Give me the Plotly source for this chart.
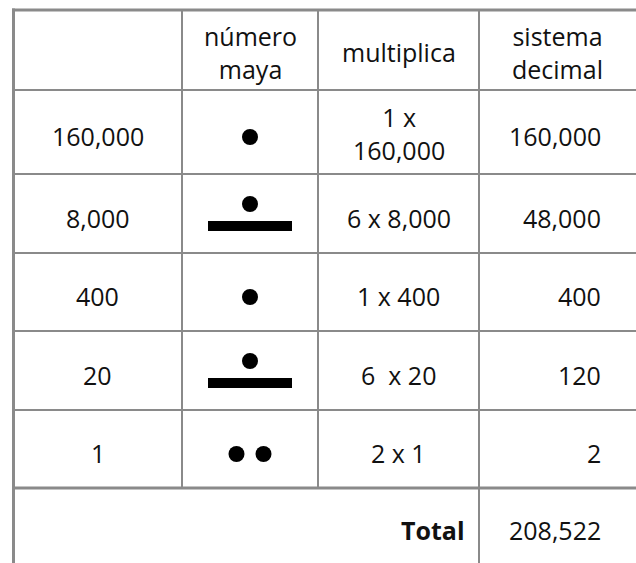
import plotly.graph_objects as go

# ---- data ----
headers = ["", "número<br>maya", "multiplica", "sistema<br>decimal"]
place_values = ["160,000", "8,000", "400", "20", "1"]
maya_digits = [1, 6, 1, 6, 2]
multiplica = ["1 x<br>160,000", "6 x 8,000", "1 x 400", "6  x 20", "2 x 1"]
decimal_values = ["160,000", "48,000", "400", "120", "2"]
total_label = "Total"
total_value = "208,522"

# ---- layout geometry (pixel-like axis units) ----
W, H = 636, 563
col_edges = [13.5, 182, 318, 479, 640]
row_edges = [10, 90, 174, 253, 331, 410, 488]
line_color = "#8a8a8a"
font = dict(family="Open Sans, Noto Sans, sans-serif", size=25, color="#111111")
text_dy = 4
right_x = 603

fig = go.Figure()
shapes = []

def line(x0, y0, x1, y1, w):
    shapes.append(dict(type="line", xref="x", yref="y", x0=x0, y0=y0, x1=x1, y1=y1,
                       line=dict(color=line_color, width=w)))

# borders
line(12, row_edges[0], W, row_edges[0], 3)
line(col_edges[0], row_edges[0] - 1.5, col_edges[0], H, 3)
for i, y in enumerate(row_edges[1:]):
    line(col_edges[0], y, W, y, 3 if i == len(row_edges) - 2 else 2)
for x in col_edges[1:3]:
    line(x, row_edges[0], x, row_edges[-1], 2)
line(col_edges[3], row_edges[0], col_edges[3], H, 2)

annotations = []
def text(x, y, s, anchor="center", bold=False):
    f = dict(font)
    annotations.append(dict(x=x, y=y, xref="x", yref="y", text=(f"<b>{s}</b>" if bold else s),
                            showarrow=False, xanchor=anchor, yanchor="middle", font=f,
                            align="center"))

cx = [(col_edges[i] + col_edges[i + 1]) / 2 for i in range(3)]
# headers
hy = (row_edges[0] + row_edges[1]) / 2 + 2
for i, h in enumerate(headers):
    if not h:
        continue
    if i < 3:
        text(cx[i], hy, h)
    else:
        text(557, hy, h)

dot_x, dot_y = [], []
for r in range(len(place_values)):
    yc = (row_edges[r + 1] + row_edges[r + 2]) / 2
    text(cx[0], yc + text_dy, place_values[r])
    text(cx[2], yc + (text_dy if "<br>" not in multiplica[r] else 1), multiplica[r])
    text(right_x, yc + text_dy, decimal_values[r], anchor="right")
    n = maya_digits[r]
    bars, dots = n // 5, n % 5
    if bars == 0:
        dyy = yc + 5
    else:
        dyy = yc - 9.5
    for k in range(dots):
        dot_x.append(cx[1] + (k - (dots - 1) / 2) * 27)
        dot_y.append(dyy)
    for b in range(bars):
        by = yc + 12.5 + b * 17
        shapes.append(dict(type="rect", xref="x", yref="y", x0=cx[1] - 42, x1=cx[1] + 42,
                           y0=by - 5, y1=by + 5, fillcolor="#000000", line=dict(width=0)))

ty = 530
text(467, ty, total_label, anchor="right", bold=True)
text(right_x, ty, total_value, anchor="right")

fig.add_trace(go.Scatter(x=dot_x, y=dot_y, mode="markers",
                         marker=dict(size=16, color="#000000", line=dict(width=0)),
                         hoverinfo="skip", showlegend=False))

fig.update_layout(width=W, height=H, margin=dict(l=0, r=0, t=0, b=0),
                  paper_bgcolor="white", plot_bgcolor="white",
                  shapes=shapes, annotations=annotations,
                  xaxis=dict(range=[0, W], visible=False, fixedrange=True),
                  yaxis=dict(range=[H, 0], visible=False, fixedrange=True))
fig.write_html("out.html", config={"displayModeBar": False},
               post_script="document.body.style.margin='0';document.body.style.overflow='hidden';")
